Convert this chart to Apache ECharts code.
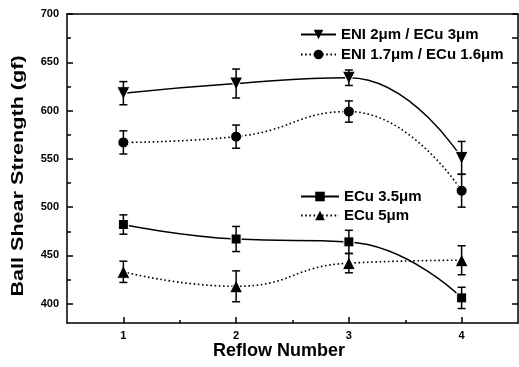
<!DOCTYPE html>
<html>
<head>
<meta charset="utf-8">
<script src="https://cdn.jsdelivr.net/npm/echarts@6/dist/echarts.min.js"></script>
<style>
html,body{margin:0;padding:0;background:#fff;}
#chart{width:519px;height:367px;}
</style>
</head>
<body>
<div id="chart"></div>
<script>
// ---- data ----
const reflow = [1, 2, 3, 4];
const eni2Name = 'ENI 2μm / ECu 3μm';
const eni17Name = 'ENI 1.7μm / ECu 1.6μm';
const ecu35Name = 'ECu 3.5μm';
const ecu5Name = 'ECu 5μm';
const eni2 = [618, 628, 634, 551];
const eni2Err = [12, 15, 8, 17];
const eni17 = [567, 573, 599, 517];
const eni17Err = [12, 12, 11, 17];
const ecu35 = [482, 467, 464, 406];
const ecu35Err = [10, 13, 12, 11];
const ecu5 = [433, 418, 442, 445];
const ecu5Err = [11, 16, 10, 15];
const yMajor = [400, 450, 500, 550, 600, 650, 700];
const yMinor = [425, 475, 525, 575, 625, 675];
const xMajor = [1, 2, 3, 4];
const xMinor = [1.5, 2.5, 3.5];

const FONT = 'Liberation Sans, Arial, sans-serif';
const chart = echarts.init(document.getElementById('chart'));

function pts(vals) { return reflow.map((x, i) => [x, vals[i]]); }
function errData(vals, errs) { return reflow.map((x, i) => [x, vals[i] - errs[i], vals[i] + errs[i]]); }

function errSeries(vals, errs) {
  return {
    type: 'custom', xAxisIndex: 0, yAxisIndex: 0, z: 5, silent: true,
    data: errData(vals, errs),
    renderItem: function (params, api) {
      const x = api.value(0);
      const lo = api.coord([x, api.value(1)]);
      const hi = api.coord([x, api.value(2)]);
      const w = 4;
      const st = { stroke: '#000', lineWidth: 1.5 };
      return { type: 'group', children: [
        { type: 'line', shape: { x1: lo[0], y1: lo[1], x2: hi[0], y2: hi[1] }, style: st },
        { type: 'line', shape: { x1: lo[0] - w, y1: lo[1], x2: lo[0] + w, y2: lo[1] }, style: st },
        { type: 'line', shape: { x1: hi[0] - w, y1: hi[1], x2: hi[0] + w, y2: hi[1] }, style: st }
      ]};
    }
  };
}

function lineSeries(name, vals, symbol, rotate, dotted, size) {
  return {
    name: name, type: 'line', xAxisIndex: 0, yAxisIndex: 0, z: 3,
    data: pts(vals), smooth: 0.5,
    symbol: symbol, symbolSize: size, symbolRotate: rotate,
    showSymbol: true,
    itemStyle: { color: '#000', borderColor: '#fff', borderWidth: 1 },
    lineStyle: { color: '#000', width: dotted ? 1.6 : 1.5, type: dotted ? [1.6, 2.6] : 'solid' },
    emphasis: { disabled: true }
  };
}

const axisLine = { show: true, lineStyle: { color: '#000', width: 1.5 } };
const legendText = { fontSize: 15, fontWeight: 'bold', color: '#000', fontFamily: FONT };
const legendItemStyle = { borderWidth: 0 };

chart.setOption({
  animation: false,
  backgroundColor: '#fff',
  grid: { left: 67, top: 14, right: 1, bottom: 44 },
  xAxis: [
    { type: 'value', min: 0.5, max: 4.5, position: 'bottom',
      axisLine: axisLine, splitLine: { show: false },
      axisTick: { show: true, inside: true, length: 6, customValues: xMajor, lineStyle: { color: '#000', width: 1.5 } },
      axisLabel: { customValues: xMajor, margin: 7, fontSize: 11, fontWeight: 'bold', color: '#000', fontFamily: FONT } },
    { type: 'value', min: 0.5, max: 4.5, position: 'bottom',
      axisLine: { show: false }, splitLine: { show: false },
      axisTick: { show: true, inside: true, length: 3, customValues: xMinor, lineStyle: { color: '#000', width: 1.5 } },
      axisLabel: { show: false } },
    { type: 'value', min: 0.5, max: 4.5, position: 'top',
      axisLine: axisLine, splitLine: { show: false }, axisTick: { show: false }, axisLabel: { show: false } }
  ],
  yAxis: [
    { type: 'value', min: 380, max: 700, position: 'left',
      axisLine: axisLine, splitLine: { show: false },
      axisTick: { show: true, inside: true, length: 6, customValues: yMajor, lineStyle: { color: '#000', width: 1.5 } },
      axisLabel: { customValues: yMajor, margin: 8, fontSize: 11, fontWeight: 'bold', color: '#000', fontFamily: FONT } },
    { type: 'value', min: 380, max: 700, position: 'left',
      axisLine: { show: false }, splitLine: { show: false },
      axisTick: { show: true, inside: true, length: 4, customValues: yMinor, lineStyle: { color: '#000', width: 1.5 } },
      axisLabel: { show: false } },
    { type: 'value', min: 380, max: 700, position: 'right',
      axisLine: axisLine, splitLine: { show: false },
      axisTick: { show: true, inside: true, length: 6, customValues: yMajor.concat(yMinor), lineStyle: { color: '#000', width: 1.5 } },
      axisLabel: { show: false } }
  ],
  legend: [
    { data: [eni2Name, eni17Name], orient: 'vertical', left: 300, top: 27, padding: 0,
      itemWidth: 35, itemHeight: 12, itemGap: 5, textStyle: legendText, itemStyle: legendItemStyle, selectedMode: false },
    { data: [ecu35Name, ecu5Name], orient: 'vertical', left: 300, top: 189, padding: 0,
      itemWidth: 38, itemHeight: 12, itemGap: 4, textStyle: legendText, itemStyle: legendItemStyle, selectedMode: false }
  ],
  graphic: [
    { type: 'text', left: 213, top: 342,
      style: { text: 'Reflow Number', font: 'bold 18px ' + FONT, fill: '#000' } },
    { type: 'text', x: 19, y: 176, rotation: Math.PI / 2, scaleX: 1.35, originX: 0, originY: 0,
      style: { text: 'Ball Shear Strength (gf)', font: 'bold 16px ' + FONT, fill: '#000', align: 'center', verticalAlign: 'middle' } }
  ],
  series: [
    lineSeries(eni2Name, eni2, 'triangle', 180, false, 13),
    lineSeries(eni17Name, eni17, 'circle', 0, true, 11),
    lineSeries(ecu35Name, ecu35, 'rect', 0, false, 10),
    lineSeries(ecu5Name, ecu5, 'triangle', 0, true, 13),
    errSeries(eni2, eni2Err),
    errSeries(eni17, eni17Err),
    errSeries(ecu35, ecu35Err),
    errSeries(ecu5, ecu5Err)
  ]
});
</script>
</body>
</html>
